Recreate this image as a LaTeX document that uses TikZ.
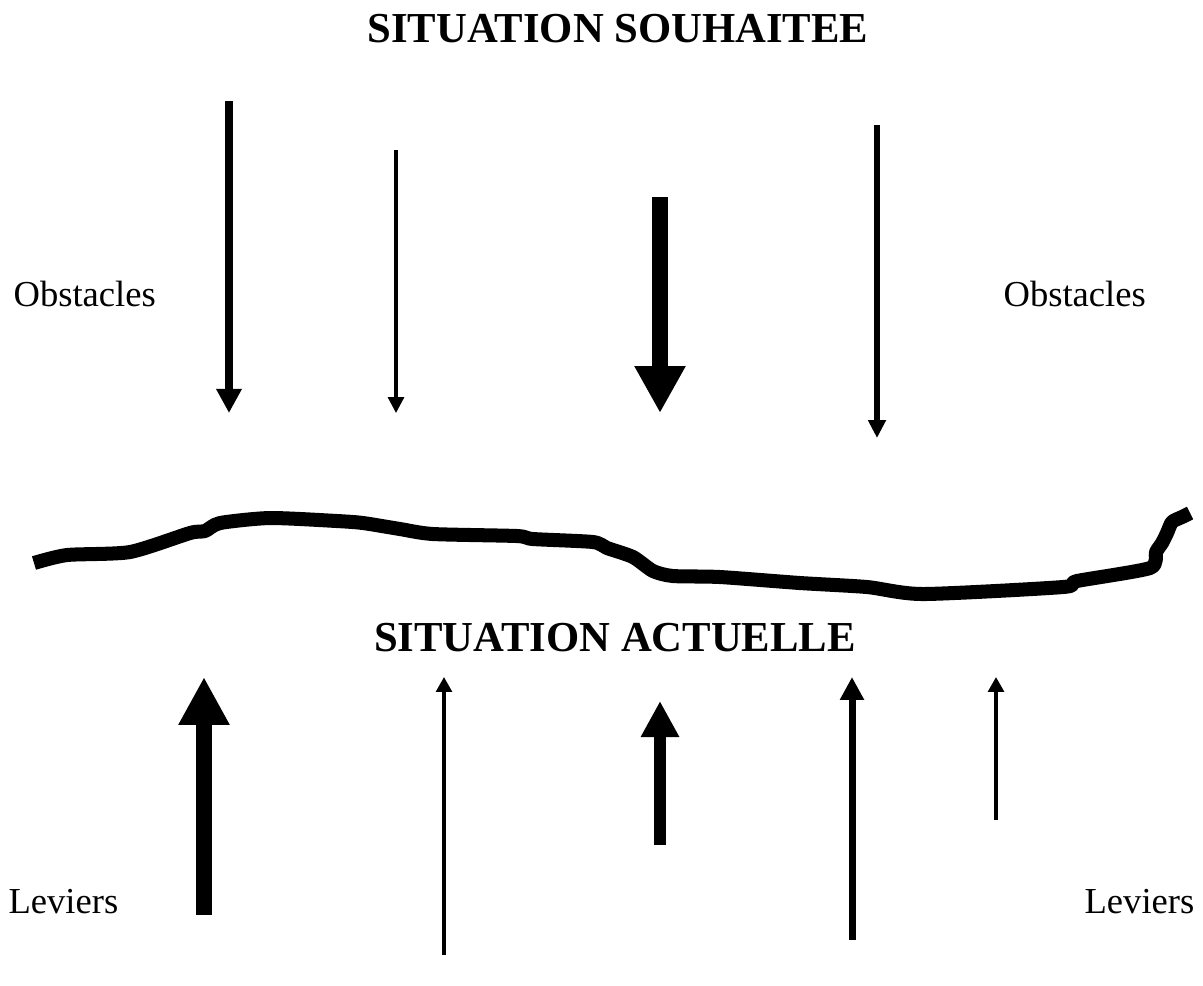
\documentclass[tikz,border=0pt]{standalone}
\usepackage{fontspec}
\setmainfont{Liberation Serif}
\usetikzlibrary{arrows.meta}

\begin{document}
\begin{tikzpicture}[x=0.328pt, y=-0.328pt,
    ttl/.style={font=\fontsize{14}{17}\selectfont\bfseries, anchor=base, inner sep=0pt},
    lbl/.style={font=\fontsize{12}{14}\selectfont, anchor=base west, inner sep=0pt},
    arr/.style n args={3}{line width=#1, -{Triangle[length=#2, width=#3]}}]
        \useasboundingbox (0,0) rectangle (1203,985);
        \node[ttl] (S) at (618,42) {SITUATION SOUHAITEE};
        \node[ttl] (A) at (615,651) {SITUATION ACTUELLE};
        \node[lbl] (OL) at (13,306) {Obstacles}; \node[lbl] (OR) at (1003,306) {Obstacles};
        \node[lbl] (LL) at (8,913) {Leviers}; \node[lbl] (LR) at (1084,913) {Leviers};
        % obstacles, pointing down
        \coordinate (o1) at (229,101); \coordinate (O1) at (229,413);
        \coordinate (o2) at (396,150); \coordinate (O2) at (396,413);
        \coordinate (o3) at (660,197); \coordinate (O3) at (660,413);
        \coordinate (o4) at (877,125); \coordinate (O4) at (877,438);
        \draw[arr={2.3pt}{7.9pt}{7.9pt}] (o1)--(O1);
        \draw[arr={1pt}{5.2pt}{5.2pt}] (o2)--(O2);
        \draw[arr={5.2pt}{15.4pt}{15.7pt}] (o3)--(O3);
        \draw[arr={2.1pt}{5.9pt}{5.6pt}] (o4)--(O4);
        % leviers, pointing up
        \coordinate (l1) at (204,915); \coordinate (L1) at (204,677);
        \coordinate (l2) at (444,955); \coordinate (L2) at (444,677);
        \coordinate (l3) at (660,845); \coordinate (L3) at (660,701);
        \coordinate (l4) at (852,940); \coordinate (L4) at (852,677);
        \coordinate (l5) at (996,820); \coordinate (L5) at (996,677);
        \draw[arr={5.2pt}{15.7pt}{15.7pt}] (l1)--(L1);
        \draw[arr={1pt}{4.9pt}{5.2pt}] (l2)--(L2);
        \draw[arr={3.9pt}{11.8pt}{11.8pt}] (l3)--(L3);
        \draw[arr={2.3pt}{7.5pt}{7.5pt}] (l4)--(L4);
        \draw[arr={1.1pt}{4.9pt}{5.2pt}] (l5)--(L5);
        % the present line
        \draw[line width=4.6pt, line join=round] plot[smooth, tension=0.4] coordinates {
            (34,563) (67,555) (130,552) (190,533) (205,531) (220,523) (270,518)
            (337,521) (363,523) (400,529) (433,534) (517,536) (533,539) (593,542)
            (607,548) (633,557) (653,571) (673,576) (720,577) (800,583) (867,587)
            (923,594) (1063,587) (1077,581) (1150,568) (1156,552) (1162,543)
            (1167,533) (1172,522) (1182,517) (1190,513)};
    \end{tikzpicture}
\end{document}
